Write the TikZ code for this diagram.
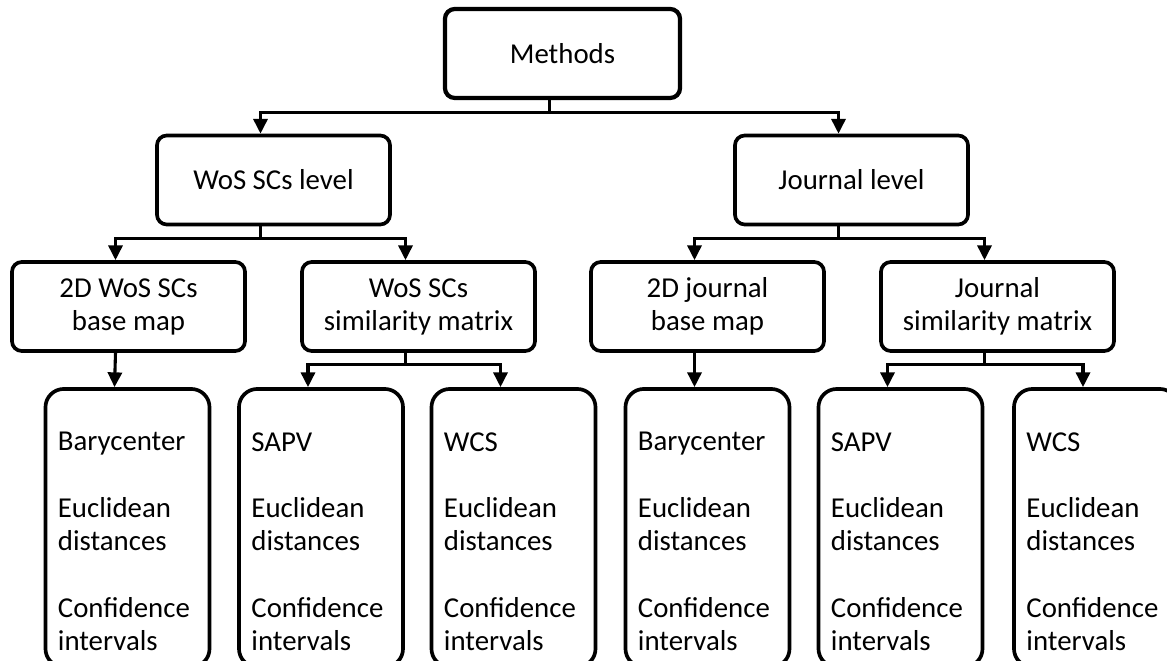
\documentclass[tikz,border=0pt]{standalone}
\usepackage{fontspec}
\setmainfont{Carlito}
\usepackage{tikz}
\usetikzlibrary{calc,arrows.meta}

\tikzset{
    box/.style={draw, line width=2.6pt, rounded corners=7pt, align=center,
        minimum width=5.825cm, minimum height=2.225cm, inner sep=0pt,
        font=\fontsize{20.5}{23.5}\selectfont},
    tallbox/.style={draw, line width=2.6pt, rounded corners=13pt,
        minimum width=4.1cm, minimum height=6.95cm, inner sep=0pt},
    items/.style={align=left, anchor=north west, inner sep=0pt,
        font=\fontsize{20.5}{23.5}\selectfont},
    link/.style={line width=2.2pt, -{Triangle[length=10.5pt,width=10pt]}}
}

\newcommand{\methodlist}[1]{#1\\[24pt]Euclidean\\distances\\[24pt]Confidence\\intervals}

\begin{document}
\begin{tikzpicture}[x=0.025cm, y=-0.025cm]
            \path[use as bounding box, fill=white] (0,0) rectangle (1167,661);

            \node (methods) [box, minimum width=5.875cm, line width=3pt] at (562.5,53.5) {Methods};

            \node (wos) [box] at (273.5,180) {WoS SCs level};
            \node (jour) [box] at (851.5,180) {Journal level};

            \node (wosmap) [box] at (128.5,306.5) {2D WoS SCs\\base map};
            \node (wossim) [box] at (418.5,306.5) {WoS SCs\\similarity matrix};
            \node (jourmap) [box] at (707.5,306.5) {2D journal\\base map};
            \node (joursim) [box] at (997.5,306.5) {Journal\\similarity matrix};

            \node (b1) [tallbox] at (127.5,528) {};
            \node (b2) [tallbox] at (321,528) {};
            \node (b3) [tallbox] at (513.5,528) {};
            \node (b4) [tallbox] at (707.5,528) {};
            \node (b5) [tallbox] at (900.5,528) {};
            \node (b6) [tallbox] at (1096,528) {};

            \node (t1) [items] at ($(b1.north west)+(14,45)$) {\methodlist{Barycenter}};
            \node (t2) [items] at ($(b2.north west)+(14,45)$) {\methodlist{SAPV}};
            \node (t3) [items] at ($(b3.north west)+(14,45)$) {\methodlist{WCS}};
            \node (t4) [items] at ($(b4.north west)+(14,45)$) {\methodlist{Barycenter}};
            \node (t5) [items] at ($(b5.north west)+(14,45)$) {\methodlist{SAPV}};
            \node (t6) [items] at ($(b6.north west)+(14,45)$) {\methodlist{WCS}};

            \draw [link] ($(methods.south)+(-13,0)$) -- ++(0,12) -| ($(wos.north)+(-13,0)$);
            \draw [link] ($(methods.south)+(-13,0)$) -- ++(0,12) -| ($(jour.north)+(-13,0)$);

            \draw [link] ($(wos.south)+(-13,0)$) -- ++(0,12) -| ($(wosmap.north)+(-13,0)$);
            \draw [link] ($(wos.south)+(-13,0)$) -- ++(0,12) -| ($(wossim.north)+(-13,0)$);
            \draw [link] ($(jour.south)+(-13,0)$) -- ++(0,12) -| ($(jourmap.north)+(-13,0)$);
            \draw [link] ($(jour.south)+(-13,0)$) -- ++(0,12) -| ($(joursim.north)+(-13,0)$);

            \draw [link] ($(wosmap.south)+(-13,0)$) -- ($(b1.north)+(-13,0)$);
            \draw [link] ($(wossim.south)+(-13,0)$) -- ++(0,12) -| ($(b2.north)+(-13,0)$);
            \draw [link] ($(wossim.south)+(-13,0)$) -- ++(0,12) -| ($(b3.north)+(-13,0)$);
            \draw [link] ($(jourmap.south)+(-13,0)$) -- ($(b4.north)+(-13,0)$);
            \draw [link] ($(joursim.south)+(-13,0)$) -- ++(0,12) -| ($(b5.north)+(-13,0)$);
            \draw [link] ($(joursim.south)+(-13,0)$) -- ++(0,12) -| ($(b6.north)+(-13,0)$);
\end{tikzpicture}
\end{document}
